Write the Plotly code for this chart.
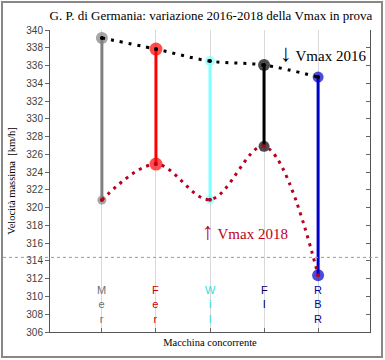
import plotly.graph_objects as go

cars = ["Mer", "Fer", "Wil", "FI", "RBR"]
car_labels = ["M<br>e<br>r", "F<br>e<br>r", "W<br>i<br>l", "F<br>I", "R<br>B<br>R"]
vmax_2016 = [339.1, 337.85, 336.5, 336.05, 334.7]
vmax_2018 = [320.85, 324.9, 320.9, 326.9, 312.4]
ref_level = 314.4
car_colors = ["#808080", "#ff0000", "#80ffff", "#000000", "#0000cc"]
label_colors = ["#707070", "#cc0000", "#33dddd", "#000066", "#0000aa"]
top_sizes = [12, 13, 10, 12, 11]
bot_sizes = [9, 13, 9, 11, 12]

xpos = list(range(1, len(cars) + 1))
serif = "Liberation Serif, Times New Roman, serif"
sans = "Liberation Sans, Arial, sans-serif"

fig = go.Figure()

for i, c in enumerate(cars):
    fig.add_trace(go.Scatter(
        x=[xpos[i], xpos[i]], y=[vmax_2018[i], vmax_2016[i]],
        mode="lines+markers",
        line=dict(color=car_colors[i], width=3),
        marker=dict(color=car_colors[i], size=[bot_sizes[i], top_sizes[i]],
                    line=dict(width=0)),
        showlegend=False, hoverinfo="skip"))

fig.add_trace(go.Scatter(
    x=xpos, y=vmax_2016, mode="lines+markers",
    line=dict(color="black", width=3, dash="3px,6px", shape="spline", smoothing=1),
    marker=dict(color="black", size=4, line=dict(width=0)),
    showlegend=False))
fig.add_trace(go.Scatter(
    x=xpos, y=vmax_2018, mode="lines+markers",
    line=dict(color="#b80020", width=3, dash="3px,5px", shape="spline", smoothing=1),
    marker=dict(color="#b80020", size=4, line=dict(width=0)),
    showlegend=False))

# right axis with inward ticks
fig.add_trace(go.Scatter(x=[None], y=[None], yaxis="y2", showlegend=False))

annotations = []
for i, lab in enumerate(car_labels):
    annotations.append(dict(
        x=xpos[i], y=311.6, xref="x", yref="y", text=lab, showarrow=False,
        yanchor="top", xanchor="center",
        font=dict(family=sans, size=11, color=label_colors[i])))

annotations.append(dict(
    x=5.93, y=337.4, xref="x", yref="y",
    text="<span style='font-size:24px'>\u2193</span> Vmax 2016", showarrow=False,
    xanchor="right", yanchor="middle",
    font=dict(family=serif, size=15, color="black")))
annotations.append(dict(
    x=2.82, y=317.4, xref="x", yref="y",
    text="<span style='font-size:24px'>\u2191</span> Vmax 2018", showarrow=False,
    xanchor="left", yanchor="middle",
    font=dict(family=serif, size=15, color="#c00018")))

shapes = [
    dict(type="line", xref="paper", yref="y", x0=-0.147, x1=1.03,
         y0=ref_level, y1=ref_level, line=dict(color="#999999", width=1, dash="3px,3px")),
    dict(type="rect", xref="paper", yref="paper", x0=-0.15, x1=1.0375,
         y0=-0.0828, y1=1.0927, line=dict(color="#888888", width=2)),
]

fig.update_layout(
    width=385, height=360,
    margin=dict(l=50, r=15, t=30, b=28),
    paper_bgcolor="white", plot_bgcolor="white",
    title=dict(text="G. P. di Germania: variazione 2016-2018 della Vmax in prova",
               x=0.503, xref="paper", xanchor="center", y=0.958, yanchor="middle",
               font=dict(family=serif, size=13, color="black")),
    xaxis=dict(range=[0.04, 5.96], tickvals=xpos, ticktext=[""] * len(xpos),
               showticklabels=False, ticks="inside", ticklen=4, tickcolor="#666666",
               showgrid=True, gridcolor="#d9d9d9", gridwidth=1,
               showline=True, linecolor="#555555", linewidth=1, zeroline=False,
               title=dict(text="Macchina concorrente", standoff=6,
                          font=dict(family=serif, size=10.5, color="black"))),
    yaxis=dict(range=[306, 340], dtick=2, tick0=306, ticks="outside", ticklen=4,
               tickcolor="#666666", showgrid=False, zeroline=False,
               showline=True, linecolor="#555555", linewidth=1,
               tickfont=dict(family=sans, size=10, color="#404040"),
               title=dict(text="Velocità massima  [km/h]", standoff=8,
                          font=dict(family=serif, size=10.5, color="black"))),
    yaxis2=dict(range=[306, 340], dtick=2, tick0=306, overlaying="y", side="right",
                ticks="inside", ticklen=4, tickcolor="#666666", showticklabels=False,
                showgrid=False, zeroline=False, showline=True, linecolor="#555555",
                linewidth=1),
    annotations=annotations,
    shapes=shapes,
)

fig.write_html("out.html", config={"displayModeBar": False},
               post_script="document.body.style.margin='0';")
